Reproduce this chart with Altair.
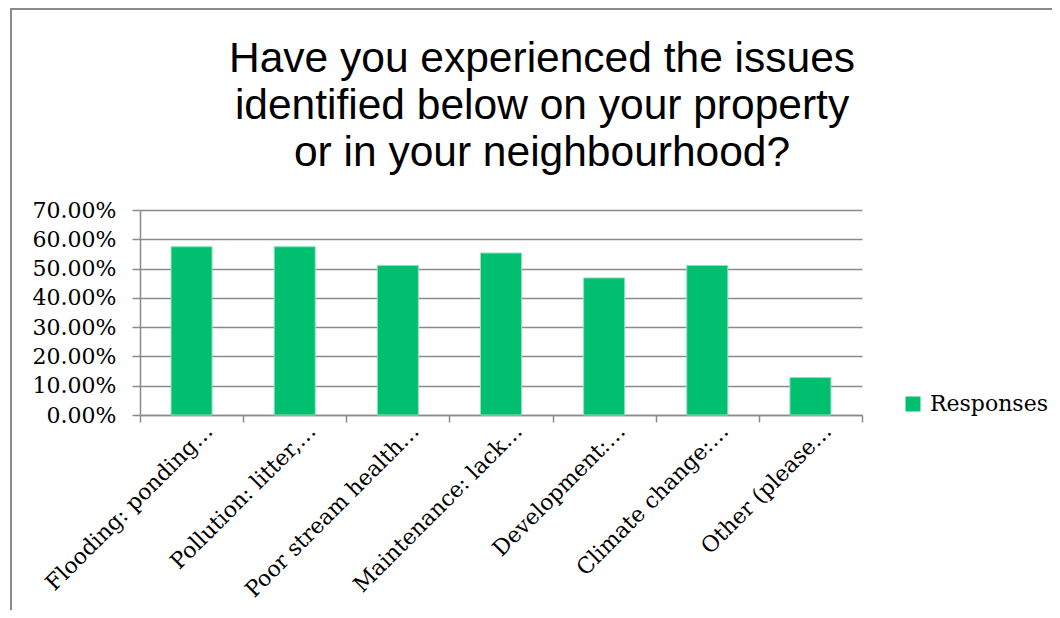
import altair as alt
import pandas as pd

categories = [
    "Flooding: ponding…",
    "Pollution: litter,…",
    "Poor stream health…",
    "Maintenance: lack…",
    "Development:…",
    "Climate change:…",
    "Other (please…",
]
responses = [0.5745, 0.5745, 0.5106, 0.5532, 0.4681, 0.5106, 0.1277]
series_name = "Responses"
title_lines = [
    "Have you experienced the issues",
    "identified below on your property",
    "or in your neighbourhood?",
]
y_ticks = [0.0, 0.1, 0.2, 0.3, 0.4, 0.5, 0.6, 0.7]

df = pd.DataFrame({
    "issue": categories,
    "share": responses,
    "series": [series_name] * len(categories),
})

W, H = 722, 205
GRAY = "#8a8a8a"
SERIF = "DejaVu Serif"

bars = alt.Chart(df).mark_bar(size=41, stroke="#8fe0bb", strokeWidth=1).encode(
    x=alt.X(
        "issue:N",
        sort=categories,
        title=None,
        scale=alt.Scale(paddingInner=0, paddingOuter=0),
        axis=alt.Axis(
            labelAngle=-45, labelAlign="right", labelBaseline="middle",
            labelFont=SERIF, labelFontSize=22, labelColor="black",
            labelLimit=0,
            tickBand="extent", tickSize=7, tickColor=GRAY, tickWidth=1.5,
            domainColor=GRAY, domainWidth=1.5, grid=False,
            labelOffset=17, labelPadding=5,
        ),
    ),
    y=alt.Y(
        "share:Q",
        title=None,
        scale=alt.Scale(domain=[0, 0.7], nice=False),
        axis=alt.Axis(
            values=y_ticks, format=".2%",
            labelFont=SERIF, labelFontSize=22, labelColor="black",
            labelPadding=16, tickSize=8, tickColor=GRAY, tickWidth=1.5,
            domainColor=GRAY, domainWidth=1.5,
            grid=True, gridColor=GRAY, gridWidth=1.5,
        ),
    ),
    color=alt.Color(
        "series:N",
        scale=alt.Scale(range=["#00BF6F"]),
        legend=alt.Legend(
            title=None, orient="none", legendX=762, legendY=183,
            symbolType="square", symbolSize=225, symbolStrokeWidth=0,
            labelFont=SERIF, labelFontSize=22, labelColor="black",
            labelOffset=6,
        ),
    ),
)

blank = alt.Chart(alt.Data(values=[{"k": 1}]))

title = blank.mark_text(
    text=title_lines, font="Liberation Sans", fontSize=42.5, lineHeight=47,
    align="center", baseline="alphabetic", color="black",
).encode(x=alt.value(402), y=alt.value(-138))

border_top = blank.mark_rule(color=GRAY, strokeWidth=2).encode(
    x=alt.value(-130), x2=alt.value(912), y=alt.value(-201)
)
border_left = blank.mark_rule(color=GRAY, strokeWidth=2).encode(
    x=alt.value(-129), y=alt.value(-201), y2=alt.value(408)
)

chart = alt.layer(border_top, border_left, title, bars).properties(
    width=W, height=H,
    autosize=alt.AutoSizeParams(type="none"),
    padding={"left": 132, "top": 202, "right": 190, "bottom": 195},
).configure_view(stroke=None)

chart.save("out.html", embed_options={"renderer": "svg", "actions": False})
